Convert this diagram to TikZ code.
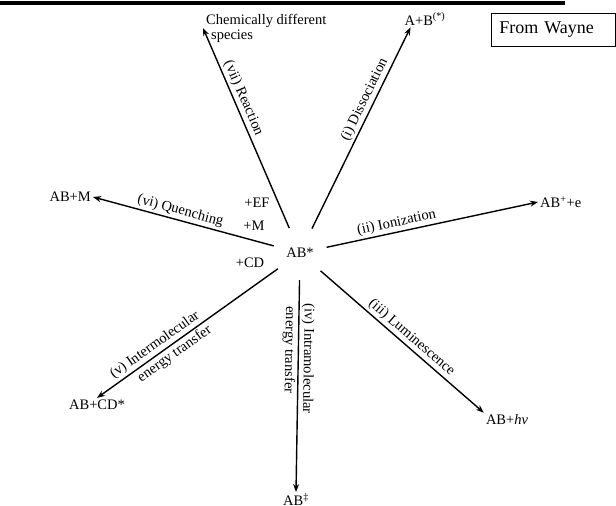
\documentclass[tikz,border=0pt]{standalone}
\usepackage{fontspec}
\setmainfont{Liberation Serif}
\usepackage{tikz}
\usetikzlibrary{arrows.meta, positioning, calc}
\tikzset{
    state/.style={circle, minimum size=54pt, inner sep=0pt,
                  font=\fontsize{14.5}{15}\selectfont},
    species/.style={inner sep=2pt, font=\fontsize{14.5}{15}\selectfont},
    reagent/.style={inner sep=1pt, font=\fontsize{14.5}{15}\selectfont},
    fate/.style={sloped, inner sep=2pt, font=\fontsize{14.5}{15}\selectfont},
    source/.style={rectangle, draw=black, line width=0.8pt, anchor=north west,
                   minimum width=124pt, minimum height=33pt, inner xsep=8pt,
                   text width=108pt, align=left, font=\fontsize{18}{20}\selectfont},
    arrow/.style={-{Stealth[length=8pt, width=6pt]}, line width=1.4pt, draw=black}
}

\begin{document}
\begin{tikzpicture}[x=1pt, y=-1pt]
  \useasboundingbox (0,0) rectangle (616,506);

  % --- Header ---
  \draw[line width=4.5pt] (0,3) -- (565,3);
  \node[source] (src) at (491,13) {From Wayne};

  % --- Excited molecule and partners ---
  \node[state] (ab) at (300,253) {AB*};
  \node[reagent] (rEF) at (257,203) {+EF};
  \node[reagent] (rM) at (254,226) {+M};
  \node[reagent] (rCD) at (250,263) {+CD};

  % --- Products ---
  \node[species] (diss) at (425,19) {A+B\textsuperscript{(*)}};
  \node[species, anchor=west] (ion) at (538,202) {AB\textsuperscript{+}+e};
  \node[species] (lum) at (507,420) {AB+\textit{hν}};
  \node[species, anchor=north, inner sep=1pt] (intra) at (296,492) {AB\textsuperscript{‡}};
  \node[species] (inter) at (97,405) {AB+CD*};
  \node[species, anchor=east] (quen) at (93,197) {AB+M};
  \node[species, anchor=west, align=left, inner sep=3pt] (reac) at (203,28)
        {Chemically different\\\hspace{5pt}species};

  % --- Fates of AB* ---
  \draw[arrow] (ab) -- node[fate, above, pos=0.62] {(i) Dissociation} (diss.210);
  \draw[arrow] (ab) -- node[fate, above, pos=0.34] {(ii) Ionization} (ion.west);
  \draw[arrow] (ab) -- node[fate, above, pos=0.52] {(iii) Luminescence} (lum.north west);
  \draw[arrow] (ab) -- node[fate, allow upside down, above, pos=0.37] {(iv) Intramolecular}
        node[fate, allow upside down, below, pos=0.33] {energy transfer} (intra.north);
  \draw[arrow] (ab) -- node[fate, above, pos=0.65] {(v) Intermolecular}
        node[fate, below, pos=0.6] {energy transfer} (inter.north);
  \draw[arrow] (ab) -- node[fate, above, pos=0.53] {(vi) Quenching} (quen.east);
  \draw[arrow] (ab) -- node[fate, above, pos=0.63] {(vii) Reaction} (reac.west);

\end{tikzpicture}
\end{document}
